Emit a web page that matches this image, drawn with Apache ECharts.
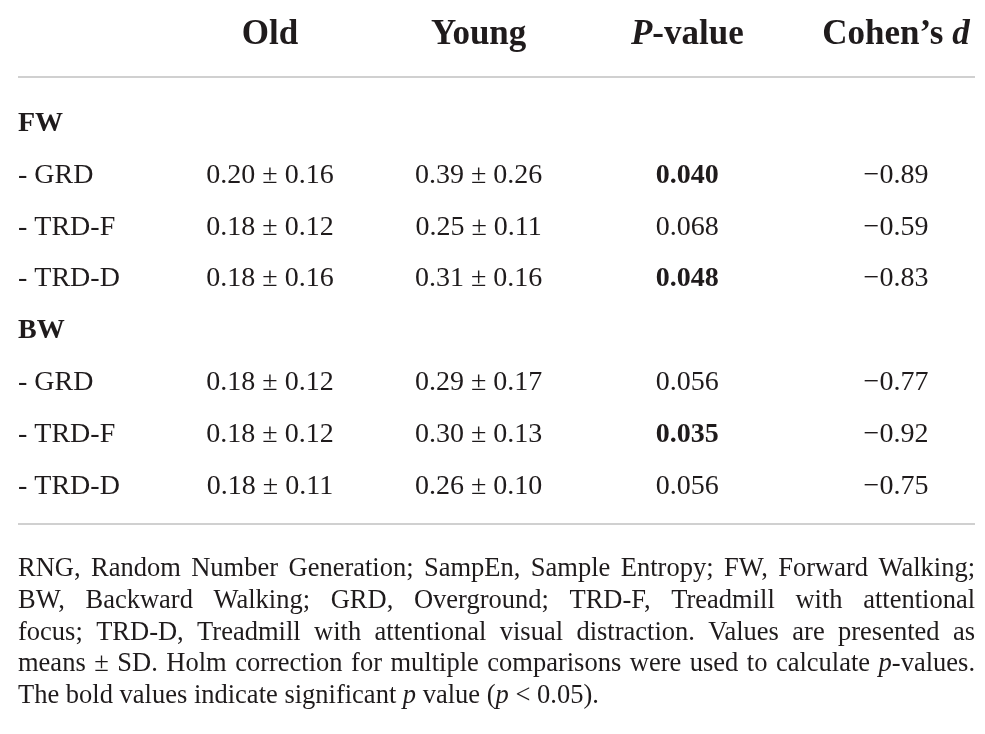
<!DOCTYPE html>
<html>
<head>
<meta charset="utf-8">
<script src="https://cdn.jsdelivr.net/npm/echarts@6/dist/echarts.min.js"></script>
<style>
  html, body { margin: 0; background: #fff; }
  #chart { width: 985px; height: 734px; }
</style>
</head>
<body>
<div id="chart"></div>
<script>
// table content
const columns = ["Old", "Young", "P-value", "Cohen’s d"];
const rows = ["FW", "- GRD", "- TRD-F", "- TRD-D", "BW", "- GRD", "- TRD-F", "- TRD-D"];
const groupRows = [0, 4];
const dataRows = [1, 2, 3, 5, 6, 7];
const oldMean = [0.20, 0.18, 0.18, 0.18, 0.18, 0.18];
const oldSd = [0.16, 0.12, 0.16, 0.12, 0.12, 0.11];
const youngMean = [0.39, 0.25, 0.31, 0.29, 0.30, 0.26];
const youngSd = [0.26, 0.11, 0.16, 0.17, 0.13, 0.10];
const pValue = [0.040, 0.068, 0.048, 0.056, 0.035, 0.056];
const cohenD = [-0.89, -0.59, -0.83, -0.77, -0.92, -0.75];
const alpha = 0.05;

// footnote, {i|..} marks italic
const footnote = [
  "RNG, Random Number Generation; SampEn, Sample Entropy; FW, Forward Walking;",
  "BW, Backward Walking; GRD, Overground; TRD-F, Treadmill with attentional",
  "focus; TRD-D, Treadmill with attentional visual distraction. Values are presented as",
  "means ± SD. Holm correction for multiple comparisons were used to calculate {i|p}-values.",
  "The bold values indicate significant {i|p} value ({i|p} < 0.05)."
];
const justified = [true, true, true, true, false];

const FONT = '"Liberation Serif", "Times New Roman", serif';
const INK = "#1f1b1c";
const HEAD = 35;
const BODY = 28;
const NOTE = 26.5;

const fmt2 = v => v.toFixed(2);
const signed = v => (v < 0 ? "\u2212" : "") + Math.abs(v).toFixed(2);

function cell(col, rowIdx, text, bold) {
  return {
    value: [col, rowIdx],
    label: { formatter: text, fontWeight: bold ? "bold" : "normal" }
  };
}

const oldData = dataRows.map((r, i) => cell(0, r, fmt2(oldMean[i]) + " ± " + fmt2(oldSd[i])));
const youngData = dataRows.map((r, i) => cell(1, r, fmt2(youngMean[i]) + " ± " + fmt2(youngSd[i])));
const pData = dataRows.map((r, i) => cell(2, r, pValue[i].toFixed(3), pValue[i] < alpha));
const dData = dataRows.map((r, i) => cell(3, r, signed(cohenD[i])));

function textSeries(name, data) {
  return {
    name, type: "scatter", data,
    symbol: "circle", symbolSize: 1,
    itemStyle: { color: "#fff", opacity: 1 },
    silent: true,
    label: {
      show: true, position: "inside", align: "center", verticalAlign: "middle",
      color: INK, textBorderWidth: 0, textShadowBlur: 0,
      fontFamily: FONT, fontSize: BODY
    }
  };
}

// footnote layout with justified lines
const ctx = document.createElement("canvas").getContext("2d");
function segs(word) {
  const out = [];
  const re = /\{i\|([^}]*)\}/g;
  let last = 0, m;
  while ((m = re.exec(word))) {
    if (m.index > last) out.push({ t: word.slice(last, m.index), it: false });
    out.push({ t: m[1], it: true });
    last = re.lastIndex;
  }
  if (last < word.length) out.push({ t: word.slice(last), it: false });
  return out;
}
function measure(word) {
  return segs(word).reduce((s, g) => {
    ctx.font = (g.it ? "italic " : "") + NOTE + "px " + FONT;
    return s + ctx.measureText(g.t).width;
  }, 0);
}

const noteLeft = 18, noteRight = 975, noteTop = 569, noteStep = 31.8;
const noteGraphics = [];
footnote.forEach((line, li) => {
  const words = line.split(" ");
  const widths = words.map(measure);
  ctx.font = NOTE + "px " + FONT;
  const space = ctx.measureText(" ").width;
  const total = widths.reduce((a, b) => a + b, 0);
  const gap = justified[li] ? (noteRight - noteLeft - total) / (words.length - 1) : space;
  let x = noteLeft;
  words.forEach((w, wi) => {
    noteGraphics.push({
      type: "text", x, y: noteTop + li * noteStep, silent: true,
      style: {
        text: w, fill: INK, font: NOTE + "px " + FONT,
        verticalAlign: "middle",
        rich: { i: { fontStyle: "italic", fontFamily: FONT, fontSize: NOTE, fill: INK } }
      }
    });
    x += widths[wi] + gap;
  });
});

const chart = echarts.init(document.getElementById("chart"));
chart.setOption({
  backgroundColor: "#fff",
  animation: false,
  grid: { left: 270, right: 89, top: 123.5, bottom: 247.5 },
  xAxis: {
    type: "category", data: columns, position: "top", boundaryGap: false,
    axisLine: { show: false }, axisTick: { show: false }, splitLine: { show: false },
    axisLabel: {
      margin: 88.5, verticalAlign: "middle", interval: 0,
      formatter: v => v === "P-value" ? "{bi|P}{b|-value}"
        : v === "Cohen’s d" ? "{b|Cohen’s }{bi|d}" : "{b|" + v + "}",
      rich: {
        b: { fontFamily: FONT, fontSize: HEAD, fontWeight: "bold", color: INK },
        bi: { fontFamily: FONT, fontSize: HEAD, fontWeight: "bold", fontStyle: "italic", color: INK }
      }
    }
  },
  yAxis: {
    type: "category", data: rows, inverse: true, boundaryGap: false,
    axisLine: { show: false }, axisTick: { show: false }, splitLine: { show: false },
    axisLabel: {
      margin: 252, align: "left", interval: 0,
      formatter: (v, i) => groupRows.includes(i) ? "{g|" + v + "}" : "{r|" + v + "}",
      rich: {
        g: { fontFamily: FONT, fontSize: BODY, fontWeight: "bold", color: INK },
        r: { fontFamily: FONT, fontSize: BODY, color: INK }
      }
    }
  },
  series: [
    textSeries("Old", oldData),
    textSeries("Young", youngData),
    textSeries("P-value", pData),
    textSeries("Cohen’s d", dData)
  ],
  graphic: [
    { type: "line", silent: true, shape: { x1: 18, y1: 77, x2: 975, y2: 77 }, style: { stroke: "#d0d0d0", lineWidth: 2 } },
    { type: "line", silent: true, shape: { x1: 18, y1: 524, x2: 975, y2: 524 }, style: { stroke: "#d0d0d0", lineWidth: 2 } },
    ...noteGraphics
  ]
});
window.addEventListener("resize", () => chart.resize());
</script>
</body>
</html>
